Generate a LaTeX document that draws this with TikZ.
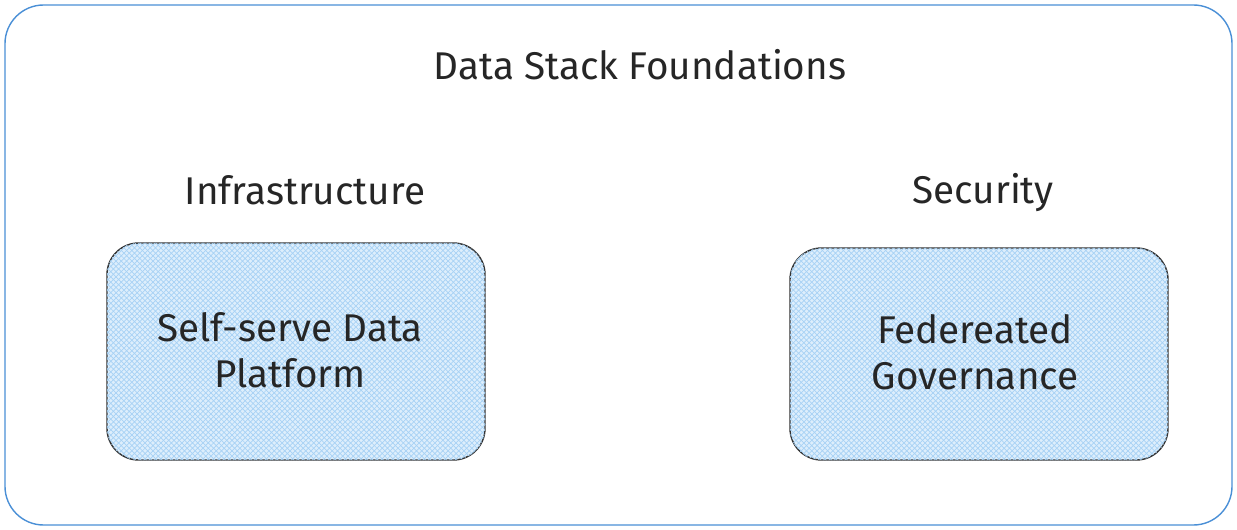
\documentclass[tikz,border=0pt]{standalone}
\usepackage{fontspec}
\setmainfont{Fira Sans}
\usetikzlibrary{patterns}
\definecolor{frameblue}{HTML}{4A8FD6}
\definecolor{boxfill}{HTML}{DDEEFC}
\definecolor{hatch}{HTML}{A8D2F5}
\begin{document}
\begin{tikzpicture}[x=0.02cm,y=-0.02cm,
    lbl/.style={font=\fontsize{22}{26}\selectfont, text=black!85},
    card/.style={draw=black!80, thick, rounded corners=18pt, fill=boxfill,
        postaction={pattern=crosshatch, pattern color=hatch}},
    cardtext/.style={lbl, align=center}]
    % Canvas
    \useasboundingbox (0,0) rectangle (1237,530);
    \draw[frameblue, thick, rounded corners=22pt] (5,5) rectangle (1232,525);

    % Titles
    \node[lbl] (title) at (640,65) {Data Stack Foundations};
    \node[lbl] (infra) at (305,190) {Infrastructure};
    \node[lbl] (sec) at (983,193) {Security};

    % Boxes
    \draw[card] (107,243) rectangle (485,460);
    \node[cardtext] (platform) at (290,350) {Self-serve Data\\Platform};
    \draw[card] (790,248) rectangle (1168,460);
    \node[cardtext] (gov) at (975,352) {Federeated\\Governance};
\end{tikzpicture}
\end{document}
